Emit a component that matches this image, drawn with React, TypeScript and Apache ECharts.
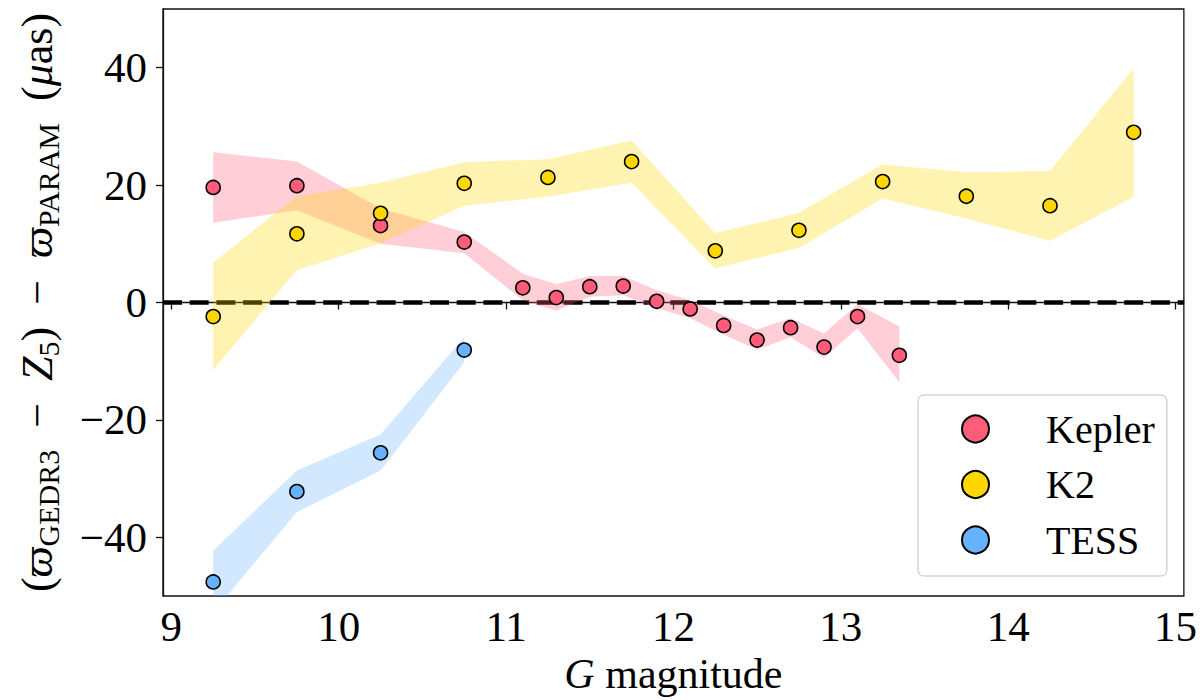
import { useEffect, useRef } from 'react';
import * as echarts from 'echarts';

// Kepler sample: G magnitude bins, parallax offset and the band around it (uas)
const keplerMag = [9.25, 9.75, 10.25, 10.75, 11.1, 11.3, 11.5, 11.7, 11.9, 12.1, 12.3, 12.5, 12.7, 12.9, 13.1, 13.35];
const keplerOffset = [19.6, 19.9, 13.1, 10.3, 2.5, 0.85, 2.7, 2.8, 0.2, -1.1, -3.9, -6.4, -4.3, -7.6, -2.4, -9.0];
const keplerLow = [13.6, 15.7, 10.0, 8.4, 0.4, -1.4, 1.0, 1.25, -1.0, -2.7, -5.5, -8.0, -5.9, -9.4, -4.4, -13.6];
const keplerHigh = [25.6, 24.0, 16.0, 12.0, 4.9, 3.1, 4.5, 4.5, 2.1, 0.4, -2.2, -4.6, -2.7, -5.3, -0.3, -4.1];

// K2 sample
const k2Mag = [9.25, 9.75, 10.25, 10.75, 11.25, 11.75, 12.25, 12.75, 13.25, 13.75, 14.25, 14.75];
const k2Offset = [-2.4, 11.7, 15.2, 20.3, 21.3, 24.0, 8.8, 12.3, 20.6, 18.1, 16.5, 29.0];
const k2Low = [-11.5, 5.5, 10.1, 16.5, 18.0, 20.4, 5.8, 9.3, 17.7, 14.3, 10.5, 18.0];
const k2High = [6.8, 18.1, 20.4, 23.9, 24.4, 27.6, 11.8, 15.3, 23.5, 22.2, 22.4, 39.9];

// TESS sample
const tessMag = [9.25, 9.75, 10.25, 10.75];
const tessOffset = [-47.6, -32.2, -25.6, -8.1];
const tessLow = [-52.8, -35.7, -28.6, -10.2];
const tessHigh = [-42.3, -28.6, -22.5, -5.9];

const xTicks = [9, 10, 11, 12, 13, 14, 15];
const yTicks = [-40, -20, 0, 20, 40];
const X_MIN = 8.95;
const X_MAX = 15.05;

const FONT = '"Liberation Serif", "DejaVu Serif", serif';

function bandSeries(name: string, xs: number[], lo: number[], hi: number[], fill: string, z: number) {
  return {
    type: 'custom',
    name,
    z,
    clip: true,
    silent: true,
    data: xs.map((x, i) => [x, lo[i], hi[i]]),
    encode: { x: 0, y: [1, 2] },
    renderItem: (params: any, api: any) => {
      if (params.dataIndex !== 0) return null;
      const top = xs.map((x, i) => api.coord([x, hi[i]]));
      const bottom = xs.map((x, i) => api.coord([x, lo[i]])).reverse();
      return {
        type: 'polygon',
        shape: { points: top.concat(bottom) },
        style: { fill },
      };
    },
  };
}

function pointSeries(name: string, xs: number[], ys: number[], color: string, z: number) {
  return {
    type: 'scatter',
    name,
    z,
    symbol: 'circle',
    symbolSize: 14,
    itemStyle: { color, borderColor: '#000', borderWidth: 1.6, opacity: 1 },
    data: xs.map((x, i) => [x, ys[i]]),
  };
}

export default function App() {
  const chartRef = useRef<HTMLDivElement>(null);

  useEffect(() => {
    if (!chartRef.current) return;
    const chart = echarts.init(chartRef.current, undefined, { renderer: 'svg' });

    const sp = '\u2002';
    const yName =
      `({i|ϖ}{s|GEDR3}${sp}−${sp}{i|Z}{s|5})${sp}−${sp}{i|ϖ}{s|PARAM}${sp}({i|μ}as)`;

    const option: any = {
      animation: false,
      backgroundColor: '#fff',
      textStyle: { fontFamily: FONT },
      grid: {
        left: 163,
        right: 11,
        top: 9,
        bottom: 104,
        show: true,
        borderColor: '#111',
        borderWidth: 1.3,
      },
      xAxis: {
        type: 'value',
        min: X_MIN,
        max: X_MAX,
        name: '{i|G} magnitude',
        nameLocation: 'middle',
        nameGap: 48,
        nameTextStyle: {
          fontFamily: FONT,
          fontSize: 42,
          color: '#000',
          verticalAlign: 'top',
          rich: { i: { fontFamily: FONT, fontSize: 42, fontStyle: 'italic', color: '#000' } },
        },
        axisLine: { show: true, lineStyle: { color: '#111', width: 1.3 } },
        axisTick: { show: true, length: 7, lineStyle: { color: '#111', width: 1.3 }, customValues: xTicks },
        axisLabel: {
          customValues: xTicks,
          fontFamily: FONT,
          fontSize: 43,
          color: '#000',
          margin: 9,
        },
        splitLine: { show: false },
      },
      yAxis: {
        type: 'value',
        min: -50,
        max: 50,
        name: yName,
        nameLocation: 'middle',
        nameRotate: 90,
        nameGap: 100,
        nameTextStyle: {
          fontFamily: FONT,
          fontSize: 44,
          lineHeight: 52,
          color: '#000',
          rich: {
            i: { fontFamily: FONT, fontSize: 44, lineHeight: 52, fontStyle: 'italic', color: '#000' },
            s: { fontFamily: FONT, fontSize: 30, lineHeight: 32, verticalAlign: 'bottom', color: '#000' },
          },
        },
        axisLine: { show: true, lineStyle: { color: '#111', width: 1.3 } },
        axisTick: { show: true, length: 7, lineStyle: { color: '#111', width: 1.3 }, customValues: yTicks },
        axisLabel: {
          customValues: yTicks,
          fontFamily: FONT,
          fontSize: 43,
          color: '#000',
          margin: 16,
          formatter: (v: number) => (v < 0 ? '\u2212' + Math.abs(v) : String(v)),
        },
        splitLine: { show: false },
      },
      legend: {
        data: ['Kepler', 'K2', 'TESS'],
        orient: 'vertical',
        left: 918,
        top: 395,
        padding: [14, 12, 16, 43],
        itemWidth: 27,
        itemHeight: 27,
        itemGap: 15.5,
        icon: 'circle',
        borderColor: '#d6d6d6',
        borderWidth: 1.5,
        borderRadius: 6,
        backgroundColor: 'rgba(255,255,255,0.85)',
        textStyle: { fontFamily: FONT, fontSize: 40, color: '#000', padding: [0, 0, 0, 52] },
      },
      series: [
        {
          type: 'line',
          name: 'zero',
          z: 1,
          silent: true,
          symbol: 'none',
          data: [[X_MIN, 0], [X_MAX, 0]],
          lineStyle: { color: '#000', width: 4.7, type: [19, 7.7] },
        },
        bandSeries('Kepler band', keplerMag, keplerLow, keplerHigh, 'rgba(255, 92, 122, 0.3)', 2),
        bandSeries('K2 band', k2Mag, k2Low, k2High, 'rgba(255, 215, 0, 0.3)', 2),
        bandSeries('TESS band', tessMag, tessLow, tessHigh, 'rgba(102, 178, 255, 0.3)', 2),
        pointSeries('Kepler', keplerMag, keplerOffset, '#ff5c7a', 3),
        pointSeries('K2', k2Mag, k2Offset, '#ffd700', 3),
        pointSeries('TESS', tessMag, tessOffset, '#66b2ff', 3),
      ],
    };

    chart.setOption(option);
    return () => {
      chart.dispose();
    };
  }, []);

  return (
    <div
      ref={chartRef}
      style={{ position: 'absolute', left: 0, top: 0, width: 1200, height: 700, background: '#fff' }}
    />
  );
}
